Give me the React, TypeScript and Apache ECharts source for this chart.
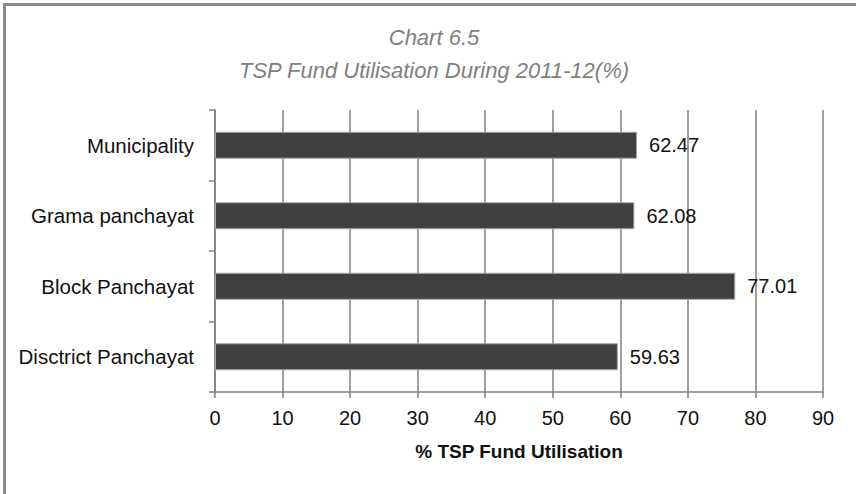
import React, { useEffect, useRef } from "react";
import * as echarts from "echarts";

const categories = ["Municipality", "Grama panchayat", "Block Panchayat", "Disctrict Panchayat"];
const values = [62.47, 62.08, 77.01, 59.63];
const titleLines = ["Chart 6.5", "TSP Fund Utilisation During 2011-12(%)"];
const xAxisName = "% TSP Fund Utilisation";

const FONT = "'Liberation Sans', Arial, sans-serif";

export default function App() {
  const ref = useRef<HTMLDivElement>(null);
  useEffect(() => {
    if (!ref.current) return;
    const chart = echarts.init(ref.current, null, { renderer: "svg" });
    chart.setOption({
      animation: false,
      backgroundColor: "#ffffff",
      textStyle: { fontFamily: FONT },
      grid: { left: 215, right: 33, top: 110, bottom: 102 },
      graphic: [
        {
          type: "polyline",
          shape: { points: [[4.5, 494], [4.5, 4.5], [856, 4.5]] },
          style: { stroke: "#8a8a8a", lineWidth: 3, fill: "none" },
          silent: true,
        },
        {
          type: "text",
          x: 434,
          y: 37,
          style: {
            text: titleLines[0],
            fontFamily: FONT,
            fontSize: 22,
            fontStyle: "italic",
            fill: "#7f7f7f",
            align: "center",
            verticalAlign: "middle",
          },
        },
        {
          type: "text",
          x: 434,
          y: 70,
          style: {
            text: titleLines[1],
            fontFamily: FONT,
            fontSize: 22,
            fontStyle: "italic",
            fill: "#7f7f7f",
            align: "center",
            verticalAlign: "middle",
          },
        },
      ],
      xAxis: {
        type: "value",
        min: 0,
        max: 90,
        interval: 10,
        name: xAxisName,
        nameLocation: "middle",
        nameGap: 50,
        nameTextStyle: { fontFamily: FONT, fontSize: 19, fontWeight: "bold", color: "#111" },
        axisLine: { show: true, lineStyle: { color: "#808080", width: 1.5 } },
        axisTick: { show: true, length: 6, lineStyle: { color: "#808080", width: 1.5 } },
        axisLabel: { fontFamily: FONT, fontSize: 20, color: "#111", margin: 16 },
        splitLine: { show: true, lineStyle: { color: "#808080", width: 1.5 } },
      },
      yAxis: {
        type: "category",
        data: categories,
        inverse: true,
        axisLine: { show: true, lineStyle: { color: "#808080", width: 1.5 } },
        axisTick: { show: true, length: 6, lineStyle: { color: "#808080", width: 1.5 } },
        axisLabel: { fontFamily: FONT, fontSize: 20.5, color: "#111", margin: 21 },
        splitLine: { show: false },
      },
      series: [
        {
          type: "bar",
          data: values,
          barWidth: 27,
          itemStyle: { color: "#404040", borderColor: "#a6a6a6", borderWidth: 1 },
          label: {
            show: true,
            position: "right",
            distance: 12,
            fontFamily: FONT,
            fontSize: 20,
            color: "#111",
            formatter: (p: any) => p.value.toFixed(2),
          },
        },
      ],
    });
    return () => chart.dispose();
  }, []);
  return <div ref={ref} style={{ position: "fixed", left: 0, top: 0, width: 856, height: 494 }} />;
}
